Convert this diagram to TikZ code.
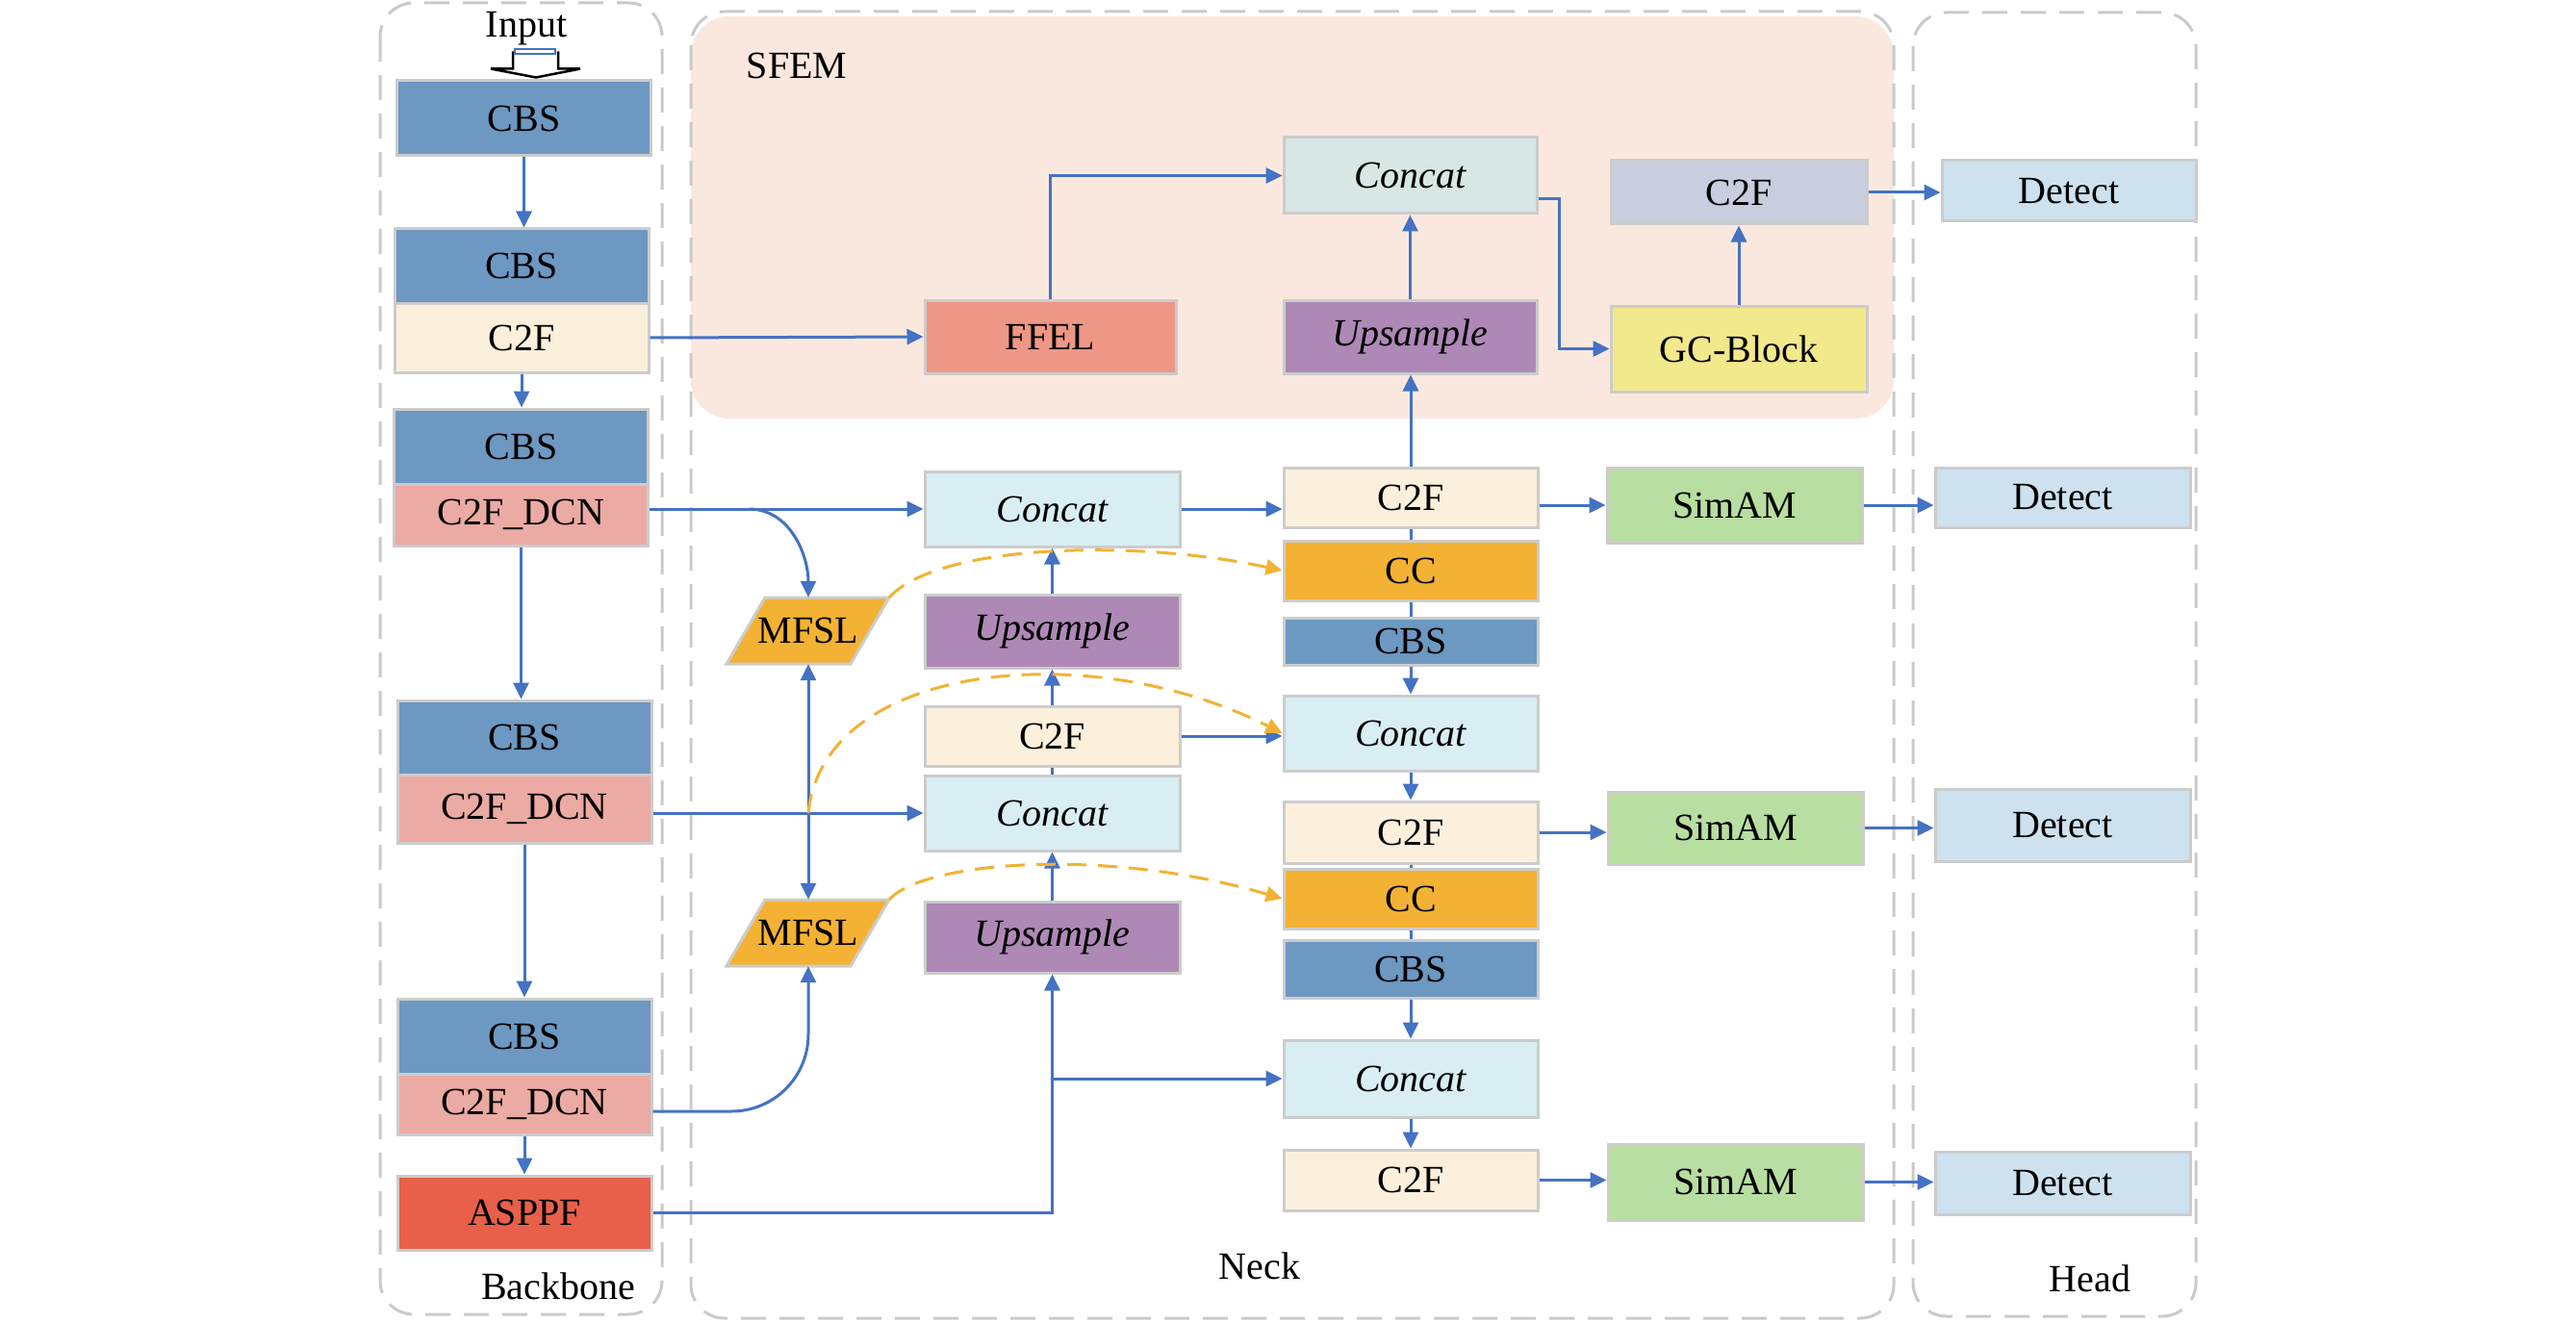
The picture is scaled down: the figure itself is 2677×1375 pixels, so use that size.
\documentclass[tikz,border=0pt]{standalone}
\usepackage{fontspec}
\setmainfont{Liberation Serif}
\usetikzlibrary{arrows.meta,calc}
\definecolor{kCbs}{HTML}{6D98C2}
\definecolor{kCtf}{HTML}{FCF0DC}
\definecolor{kDcn}{HTML}{EBAAA3}
\definecolor{kAsppf}{HTML}{E8604A}
\definecolor{kConcat}{HTML}{D9EEF3}
\definecolor{kUp}{HTML}{AE89B6}
\definecolor{kOr}{HTML}{F4B234}
\definecolor{kSim}{HTML}{B9DEA1}
\definecolor{kDet}{HTML}{CDE1EE}
\definecolor{kFfel}{HTML}{EE9786}
\definecolor{kConcatS}{HTML}{D6E7E6}
\definecolor{kCtfS}{HTML}{C8CEDE}
\definecolor{kGc}{HTML}{F2E88C}
\definecolor{kSfem}{HTML}{FAE8DE}
\definecolor{kBord}{HTML}{CCCCCC}
\definecolor{kSect}{HTML}{CACACA}
\definecolor{kLine}{HTML}{4472C4}
\definecolor{kDash}{HTML}{F2B233}
\newcommand{\bigfs}{\fontsize{40}{48}\selectfont}
\begin{document}
\begin{tikzpicture}[x=1pt,y=-1pt,
  blk/.style={draw=kBord,line width=3pt,minimum width=264pt,inner sep=0pt,font=\bigfs},
  iblk/.style={blk,font=\bigfs\itshape},
  conn/.style={draw=kLine,line width=3pt,-{Triangle[length=17pt,width=16pt]}},
  plain/.style={draw=kLine,line width=3pt},
  odash/.style={draw=kDash,line width=3pt,dash pattern=on 20pt off 12pt,-{Triangle[length=17pt,width=16pt,fill=kDash]}},
  section/.style={draw=kSect,line width=3pt,dash pattern=on 26pt off 14pt,rounded corners=35pt},
  lab/.style={font=\bigfs,inner sep=0pt},
  parfill/.style={draw=kBord,line width=3pt,fill=kOr,line join=miter}
]
\fill[white] (0,0) rectangle (2677,1375);
\useasboundingbox (0,0) rectangle (2677,1375);

% sections
\fill[kSfem, rounded corners=40pt] (718,17) rectangle (1968,435);
\draw[section] (395,3) rectangle (688,1366);
\draw[section] (718,12) rectangle (1968,1370);
\draw[section] (1988,13) rectangle (2282,1368);

\node[lab] (sfem) at (828,68) {SFEM};
\node[lab] (backbone) at (580,1337) {Backbone};
\node[lab] (neck) at (1309,1316) {Neck};
\node[lab] (head) at (2172,1329) {Head};

% backbone
\node[lab] (input) at (547,30) {Input};
\node[blk,fill=kCbs,minimum height=78pt] (cbs1) at (544.5,123) {CBS};
\node[blk,fill=kCbs,minimum height=77pt] (cbs2) at (542,276.5) {CBS};
\node[blk,fill=kCtf,minimum height=72pt] (c2f1) at (542,351) {C2F};
\node[blk,fill=kCbs,minimum height=78pt] (cbs3) at (541.5,464) {CBS};
\node[blk,fill=kDcn,minimum height=64pt] (dcn1) at (541.5,535) {C2F\_DCN};
\node[blk,fill=kCbs,minimum height=77pt] (cbs4) at (545,766.5) {CBS};
\node[blk,fill=kDcn,minimum height=71pt] (dcn2) at (545,840.5) {C2F\_DCN};
\node[blk,fill=kCbs,minimum height=78pt] (cbs5) at (545,1077) {CBS};
\node[blk,fill=kDcn,minimum height=63pt] (dcn3) at (545,1147.5) {C2F\_DCN};
\node[blk,fill=kAsppf,minimum height=77pt] (asppf) at (545,1260.5) {ASPPF};

% input arrow
\draw[black,line width=2.5pt,fill=white,line join=miter] ($(cbs1.north)+(-11.5,-29)$) -- ++(0,18) -- ++(-23,0) -- ++(47,9) -- ++(46,-9) -- ++(-23,0) -- ++(0,-18);
\draw[kLine,line width=2pt] ($(cbs1.north)+(-9.5,-31)$) rectangle ++(42,5);

% SFEM
\node[blk,fill=kFfel,minimum width=261pt,minimum height=76pt] (ffel) at (1091.5,350) {FFEL};
\node[iblk,fill=kConcatS,minimum width=263pt,minimum height=79pt] (concats) at (1465.5,182.5) {Concat};
\node[iblk,fill=kUp,minimum width=263pt,minimum height=76pt] (ups) at (1465.5,350) {Upsample};
\node[blk,fill=kCtfS,minimum width=266pt,minimum height=66pt] (c2fs) at (1807,200) {C2F};
\node[blk,fill=kGc,minimum width=266pt,minimum height=89pt] (gcb) at (1807,362.5) {GC-Block};
\node[blk,fill=kDet,minimum height=63pt] (det1) at (2150,198.5) {Detect};

% neck column 2
\node[iblk,fill=kConcat,minimum width=265pt,minimum height=78pt] (concat1) at (1093.5,529) {Concat};
\node[iblk,fill=kUp,minimum width=265pt,minimum height=76pt] (up1) at (1093.5,656) {Upsample};
\node[blk,fill=kCtf,minimum width=265pt,minimum height=62pt] (c2fm) at (1093.5,765) {C2F};
\node[iblk,fill=kConcat,minimum width=265pt,minimum height=78pt] (concat2) at (1093.5,845) {Concat};
\node[iblk,fill=kUp,minimum width=265pt,minimum height=74pt] (up2) at (1093.5,974) {Upsample};

% MFSL parallelograms
\coordinate (m1) at (840,655.5);
\coordinate (m1tr) at ($(m1)+(84,-34.5)$);
\draw[parfill] ($(m1)+(-85,34.5)$) -- ($(m1)+(-45,-34.5)$) -- (m1tr) -- ($(m1)+(44,34.5)$) -- cycle;
\node[lab,minimum width=110pt,minimum height=69pt] (mfsl1) at (m1) {MFSL};
\coordinate (m2) at (840,969.5);
\coordinate (m2tr) at ($(m2)+(84,-34.5)$);
\draw[parfill] ($(m2)+(-85,34.5)$) -- ($(m2)+(-45,-34.5)$) -- (m2tr) -- ($(m2)+(44,34.5)$) -- cycle;
\node[lab,minimum width=110pt,minimum height=69pt] (mfsl2) at (m2) {MFSL};

% neck column 3
\node[blk,fill=kCtf,minimum height=62pt] (c2fa) at (1466,517) {C2F};
\node[blk,fill=kOr,minimum height=62pt] (cc1) at (1466,593) {CC};
\node[blk,fill=kCbs,minimum height=49pt] (cbsa) at (1466,666.5) {CBS};
\node[iblk,fill=kConcat,minimum height=78pt] (concatb) at (1466,762) {Concat};
\node[blk,fill=kCtf,minimum height=64pt] (c2fb) at (1466,865) {C2F};
\node[blk,fill=kOr,minimum height=62pt] (cc2) at (1466,934) {CC};
\node[blk,fill=kCbs,minimum height=60pt] (cbsb) at (1466,1007) {CBS};
\node[iblk,fill=kConcat,minimum height=80pt] (concatc) at (1466,1121) {Concat};
\node[blk,fill=kCtf,minimum height=63pt] (c2fc) at (1466,1226.5) {C2F};

% SimAM and Detect
\node[blk,fill=kSim,minimum width=265pt,minimum height=78pt] (sim1) at (1802.5,525) {SimAM};
\node[blk,fill=kSim,minimum width=265pt,minimum height=75pt] (sim2) at (1803.5,860.5) {SimAM};
\node[blk,fill=kSim,minimum width=265pt,minimum height=79pt] (sim3) at (1803.5,1228.5) {SimAM};
\node[blk,fill=kDet,minimum width=265pt,minimum height=62pt] (det2) at (2143.5,517) {Detect};
\node[blk,fill=kDet,minimum width=265pt,minimum height=75pt] (det3) at (2143.5,857.5) {Detect};
\node[blk,fill=kDet,minimum width=265pt,minimum height=65pt] (det4) at (2143.5,1229.5) {Detect};

% backbone connectors
\draw[conn] (cbs1.south) -- (cbs1.south |- cbs2.north);
\draw[conn] (c2f1.south) -- (c2f1.south |- cbs3.north);
\draw[conn] (dcn1.south) -- (dcn1.south |- cbs4.north);
\draw[conn] (dcn2.south) -- (dcn2.south |- cbs5.north);
\draw[conn] (dcn3.south) -- (dcn3.south |- asppf.north);

% backbone to neck
\draw[conn] (c2f1.east) -- (ffel.west);
\draw[conn] (dcn1.east |- concat1.west) -- (concat1.west);
\coordinate (b1) at (778,529);
\draw[conn] (b1) to[out=0,in=90] (mfsl1.north);
\draw[conn] (dcn2.east |- concat2.west) -- (concat2.west);
\coordinate (b2) at (mfsl1.south |- concat2.west);
\draw[conn] (b2) -- (mfsl1.south);
\draw[conn] (b2) -- (mfsl2.north);
\coordinate (b3) at (760,1155);
\coordinate (b3e) at (840,1075);
\draw[conn] (dcn3.east |- b3) -- (b3) to[out=0,in=-90] (b3e) -- (mfsl2.south);
\draw[conn] (asppf.east) -- (up2.south |- asppf.east) -- (up2.south);
\draw[conn] (up2.south |- concatc.west) -- (concatc.west);

% neck column 2 connectors
\draw[conn] (up2.north) -- (concat2.south);
\draw[plain] (concat2.north) -- (c2fm.south);
\draw[conn] (c2fm.north) -- (up1.south);
\draw[conn] (up1.north) -- (concat1.south);
\draw[conn] (concat1.east) -- (concat1.east -| c2fa.west);
\draw[conn] (c2fm.east) -- (c2fm.east -| concatb.west);

% neck column 3 connectors
\draw[conn] (c2fa.north) -- (c2fa.north |- ups.south);
\draw[plain] (c2fa.south) -- (cc1.north);
\draw[plain] (cc1.south) -- (cbsa.north);
\draw[conn] (cbsa.south) -- (concatb.north);
\draw[conn] (concatb.south) -- (c2fb.north);
\draw[plain] (c2fb.south) -- (cc2.north);
\draw[plain] (cc2.south) -- (cbsb.north);
\draw[conn] (cbsb.south) -- (concatc.north);
\draw[conn] (concatc.south) -- (c2fc.north);

% to SimAM and Detect
\draw[conn] (c2fa.east |- sim1.west) -- (sim1.west);
\draw[conn] (sim1.east) -- (sim1.east -| det2.west);
\draw[conn] (c2fb.east) -- (c2fb.east -| sim2.west);
\draw[conn] (sim2.east) -- (sim2.east -| det3.west);
\draw[conn] (c2fc.east) -- (c2fc.east -| sim3.west);
\draw[conn] (sim3.east) -- (sim3.east -| det4.west);

% SFEM connectors
\draw[conn] (ffel.north) |- (concats.west);
\draw[conn] (ups.north) -- (concats.south);
\coordinate (b5) at (1620,207);
\draw[conn] (concats.east |- b5) -- (b5) |- (gcb.west);
\draw[conn] (gcb.north) -- (c2fs.south);
\draw[conn] (c2fs.east) -- (c2fs.east -| det1.west);

% orange dashed
\draw[odash] (m1tr) .. controls (975,565) and (1180,560) .. (cc1.west);
\draw[odash] (b2) .. controls (855,690) and (1130,660) .. (concatb.west);
\draw[odash] (m2tr) .. controls (960,895) and (1150,880) .. (cc2.west);
\end{tikzpicture}
\end{document}
